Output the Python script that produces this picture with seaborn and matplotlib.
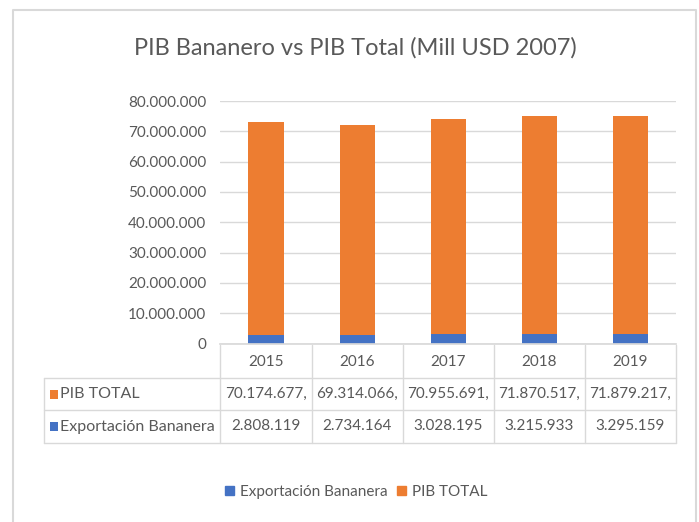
import numpy as np
import matplotlib
matplotlib.use("Agg")
import matplotlib.pyplot as plt
from matplotlib.patches import Patch
import seaborn as sns

# datos del grafico
anios = ["2015", "2016", "2017", "2018", "2019"]
pib_total = [70174677, 69314066, 70955691, 71870517, 71879217]
exportacion = [2808119, 2734164, 3028195, 3215933, 3295159]

naranja = "#ED7D31"
azul = "#4472C4"
gris_txt = "#595959"
gris_lin = "#D9D9D9"

sns.set_theme(style="white")
plt.rcParams["font.family"] = ["Lato", "DejaVu Sans"]

W, H = 699, 522
fig = plt.figure(figsize=(W / 100, H / 100), dpi=100)

# area de trazado (en pixeles)
px_l, px_r, px_top, px_bot = 220.4, 676.0, 101.0, 343.6
ax = fig.add_axes([px_l / W, 1 - px_bot / H, (px_r - px_l) / W, (px_bot - px_top) / H])

totales = np.array(pib_total) + np.array(exportacion)
sns.barplot(x=anios, y=totales, color=naranja, saturation=1, width=0.385,
            linewidth=0, ax=ax)
sns.barplot(x=anios, y=exportacion, color=azul, saturation=1, width=0.385,
            linewidth=0, ax=ax)

ax.set_ylim(0, 80_000_000)
ax.set_xlim(-0.5, 4.5)
ax.set_yticks(np.arange(0, 80_000_001, 10_000_000))
ax.set_yticklabels([f"{int(v):,}".replace(",", ".") for v in ax.get_yticks()],
                   fontsize=11, color=gris_txt)
ax.set_xticks([])
ax.set_xlabel("")
ax.set_ylabel("")
ax.tick_params(axis="y", length=0, pad=10)
ax.grid(axis="y", color=gris_lin, linewidth=1)
ax.set_axisbelow(True)
for s in ["left", "top", "right"]:
    ax.spines[s].set_visible(False)
ax.spines["bottom"].set_color(gris_lin)

# capa para la tabla de datos y el marco
ov = fig.add_axes([0, 0, 1, 1], zorder=-1)
ov.set_xlim(0, W)
ov.set_ylim(H, 0)
ov.axis("off")
ov.patch.set_alpha(0)

# marco del grafico
ov.plot([13, 13, 696, 696], [522, 10, 10, 522], color=gris_lin, lw=1.5)

# tabla de datos
ancho = (px_r - px_l) / len(anios)
bordes = [px_l + i * ancho for i in range(len(anios) + 1)]
y_filas = [345, 378, 410, 443]
x_izq = 44
for xb in bordes:
    ov.plot([xb, xb], [y_filas[0], y_filas[-1]], color=gris_lin, lw=1)
ov.plot([x_izq, x_izq], [y_filas[1], y_filas[-1]], color=gris_lin, lw=1)
for yb in y_filas[1:]:
    ov.plot([x_izq, px_r], [yb, yb], color=gris_lin, lw=1)

for i, a in enumerate(anios):
    xc = (bordes[i] + bordes[i + 1]) / 2
    ov.text(xc, (y_filas[0] + y_filas[1]) / 2 + 1, a, ha="center", va="center",
            fontsize=11, color=gris_txt)
    ov.text(xc, (y_filas[1] + y_filas[2]) / 2,
            f"{pib_total[i]:,}".replace(",", ".") + ",",
            ha="center", va="center", fontsize=11, color=gris_txt)
    ov.text(xc, (y_filas[2] + y_filas[3]) / 2,
            f"{exportacion[i]:,}".replace(",", "."),
            ha="center", va="center", fontsize=11, color=gris_txt)

for (nombre, col), (y0, y1) in zip([("PIB TOTAL", naranja), ("Exportación Bananera", azul)],
                                   [(y_filas[1], y_filas[2]), (y_filas[2], y_filas[3])]):
    yc = (y0 + y1) / 2
    ov.add_patch(plt.Rectangle((50, yc - 4.5), 8, 9, color=col, lw=0))
    ov.text(60, yc, nombre, ha="left", va="center", fontsize=11.5, color=gris_txt)

# titulo
fig.text(0.508, 1 - 48 / H, "PIB Bananero vs PIB Total (Mill USD 2007)",
         ha="center", va="center", fontsize=17, color=gris_txt)

# leyenda
fig.legend(handles=[Patch(color=azul, label="Exportación Bananera"),
                    Patch(color=naranja, label="PIB TOTAL")],
           loc="center", bbox_to_anchor=(0.51, 1 - 492 / H), ncol=2, frameon=False,
           fontsize=11, labelcolor=gris_txt, handlelength=0.6, handleheight=0.6,
           handletextpad=0.4, columnspacing=0.6)

fig.savefig("out.png", dpi=100)
